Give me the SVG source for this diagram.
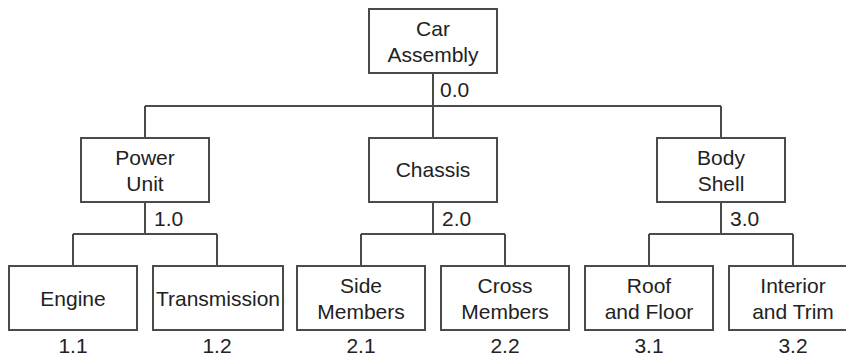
<svg xmlns="http://www.w3.org/2000/svg" width="846" height="356" viewBox="0 0 846 356">
<style>
.box{fill:#fff;stroke:#4a4a4a;stroke-width:2}
.ln{fill:none;stroke:#4a4a4a;stroke-width:2}
text{font-family:"Liberation Sans",Arial,sans-serif;font-size:21px;fill:#222}
.c{text-anchor:middle}
</style>
<rect width="846" height="356" fill="#fff"/>
<g id="connectors" class="ln">
<path d="M433 73V106M145 106H721M145 106V138M433 106V138M721 106V138"/>
<path d="M145 202V234M73 234H217M73 234V266M217 234V266"/>
<path d="M433 202V234M361 234H505M361 234V266M505 234V266"/>
<path d="M721 202V234M649 234H793M649 234V266M793 234V266"/>
</g>
<g id="n0"><rect class="box" x="369" y="9" width="128" height="64"/><text class="c" x="433" y="36">Car</text><text class="c" x="433" y="62">Assembly</text><text x="440" y="97">0.0</text></g>
<g id="n1"><rect class="box" x="81" y="138" width="128" height="64"/><text class="c" x="145" y="165">Power</text><text class="c" x="145" y="191">Unit</text><text x="154" y="226">1.0</text></g>
<g id="n2"><rect class="box" x="369" y="138" width="128" height="64"/><text class="c" x="433" y="177">Chassis</text><text x="442" y="226">2.0</text></g>
<g id="n3"><rect class="box" x="657" y="138" width="128" height="64"/><text class="c" x="721" y="165">Body</text><text class="c" x="721" y="191">Shell</text><text x="730" y="226">3.0</text></g>
<g id="n11"><rect class="box" x="9" y="266" width="128" height="64"/><text class="c" x="73" y="306">Engine</text><text class="c" x="73" y="353">1.1</text></g>
<g id="n12"><rect class="box" x="153" y="266" width="130" height="64"/><text class="c" x="218" y="306">Transmission</text><text class="c" x="217" y="353">1.2</text></g>
<g id="n21"><rect class="box" x="297" y="266" width="128" height="64"/><text class="c" x="361" y="293">Side</text><text class="c" x="361" y="319">Members</text><text class="c" x="361" y="353">2.1</text></g>
<g id="n22"><rect class="box" x="441" y="266" width="128" height="64"/><text class="c" x="505" y="293">Cross</text><text class="c" x="505" y="319">Members</text><text class="c" x="505" y="353">2.2</text></g>
<g id="n31"><rect class="box" x="585" y="266" width="128" height="64"/><text class="c" x="649" y="293">Roof</text><text class="c" x="649" y="319">and Floor</text><text class="c" x="649" y="353">3.1</text></g>
<g id="n32"><rect class="box" x="729" y="266" width="128" height="64"/><text class="c" x="793" y="293">Interior</text><text class="c" x="793" y="319">and Trim</text><text class="c" x="793" y="353">3.2</text></g>
</svg>
